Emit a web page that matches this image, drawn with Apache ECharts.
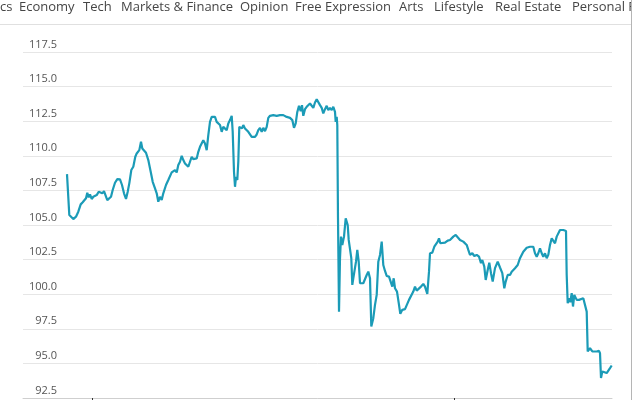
<!DOCTYPE html>
<html>
<head>
<meta charset="utf-8">
<script src="https://cdn.jsdelivr.net/npm/echarts@6/dist/echarts.min.js"></script>
<style>
html,body{margin:0;padding:0;background:#fff;}
#chart{width:632px;height:400px;}
</style>
</head>
<body>
<div id="chart"></div>
<script>
// Navigation items visible at the top of the page
const navItems = ["cs", "Economy", "Tech", "Markets & Finance", "Opinion", "Free Expression", "Arts", "Lifestyle", "Real Estate", "Personal F"];
const navX = [0, 19, 83, 121, 240, 295, 399, 434, 495, 572];

// Y axis ticks
const yTicks = [92.5, 95.0, 97.5, 100.0, 102.5, 105.0, 107.5, 110.0, 112.5, 115.0, 117.5];

// X-axis tick positions (days since start) – year boundaries
const xTickDays = [25, 387];

// Series: day offset and value
const days = [0,2.3,4,6.3,9,11.3,13.7,15.7,17.7,19,20.3,21.7,23,24.7,26.3,28,29.7,31.7,33.7,35.3,37,38.7,40.3,42.3,44,45.7,48,50.3,53,55,57,59,60.7,62.3,64.3,66.3,68.3,69.7,71,72.3,74,75.3,77,79,81.3,83.7,85.7,88,89.7,91.3,93,94.7,96.3,99,101.3,103,104.7,106.3,108,109.7,111.3,113,114.7,116.3,118,119.7,121.3,123,124.7,126.3,128,129.7,131.3,133,134.7,136.3,138,139.7,141.3,143,144.7,146.3,148,149.7,151.3,153,154.7,156.3,158,159.7,161.3,163,164.7,165.7,167,168,169,170.3,171.3,172.3,173.7,175,176.3,178,179.7,181.3,183,184.7,186.3,188,189.7,191.3,193,194.7,196.3,198,199.7,201.3,203,206.3,209.7,213,216.3,219.7,223,225.3,227,228.7,230.3,232,233.7,235,236.3,238,239.7,241.3,243,244.7,246.3,248,249.7,251.3,253,254.7,256.3,258,259.7,261.3,263,264.7,266.3,268,268.7,269.7,270.3,271,272,273,274,275.3,277,278.7,279.7,280.7,281.7,283,284.3,285.3,286.3,287.7,289,290.3,291.7,293,294.7,296.3,298,299.7,301.3,303,304.3,306.3,308,309.7,311.3,313,314.7,316.3,318,319.7,322,324,325.3,326.7,328,330,332,333.3,335.3,338,340,342,344,346.3,348,349.7,351.3,354,356.3,358,360.3,362,363,365.3,367.3,368.7,370.7,372,373.3,375.3,378,380.7,383,386.3,388.7,390.7,393,394.7,396.3,398,399.7,401.3,403,405.3,407.3,409.7,412,414,415.3,417.3,418.7,420.7,422.3,424,425.7,428,430.7,433,435.3,437.3,438.7,440.7,443,444.7,446.3,448,450.7,453,454.7,456.3,458,459.7,461.3,463,464.7,466.3,468,469.7,471.3,473,474.7,476.3,478,479.7,481.3,483,484.7,486.3,488,489.7,491.3,493,494.7,496.3,498,499,499.7,500.7,502,503.3,504.7,506,507.3,509.7,512,514,516.3,518,519.7,520.7,523,525.3,527.3,529.7,532,533,534,535.3,537.3,539.7,541.3,543,544.7];
const values = [108.68,105.72,105.60,105.43,105.60,105.96,106.49,106.64,106.68,106.93,107.33,107.00,107.21,106.88,107.04,106.97,107.16,107.40,107.36,107.29,107.45,107.33,106.80,106.80,107.04,107.53,108.05,108.32,108.30,107.89,107.29,106.88,107.40,108.01,108.97,109.21,109.93,110.17,110.05,110.41,111.01,110.53,110.41,110.22,109.69,108.85,108.12,107.65,107.29,106.68,107.04,106.80,107.29,107.89,108.25,108.37,108.80,108.66,108.97,108.80,109.33,109.57,110.00,109.69,109.45,109.33,109.21,109.57,109.93,109.76,109.86,109.81,110.29,110.65,110.53,111.13,110.89,110.41,111.49,112.45,112.81,112.94,112.81,112.45,112.58,112.22,111.73,112.09,111.98,111.85,112.34,112.58,112.89,111.73,108.85,107.76,108.48,108.25,109.57,112.09,112.22,111.98,112.22,111.98,112.09,111.73,111.85,111.37,111.49,111.37,111.54,111.85,112.02,111.73,112.02,111.78,112.09,112.74,112.89,112.94,112.89,112.94,112.94,112.81,112.74,112.58,112.02,112.34,113.17,113.61,113.23,113.66,112.89,113.37,113.54,113.42,113.78,113.90,113.46,113.85,114.09,114.02,113.66,113.46,113.06,113.37,113.61,113.30,113.46,113.30,113.54,113.17,112.45,112.81,112.22,105.48,98.74,102.60,104.16,103.56,104.16,105.48,105.60,105.00,103.92,103.80,102.60,100.67,101.15,101.15,102.35,103.20,102.35,100.79,100.67,100.79,100.67,101.39,101.63,101.15,97.66,98.27,99.23,99.95,102.35,102.84,103.80,102.11,101.68,101.32,101.27,101.39,100.55,101.15,100.43,100.19,99.23,98.58,98.87,98.92,99.06,99.59,99.71,100.19,100.55,100.26,100.19,100.55,100.74,100.55,100.02,101.63,102.96,103.00,103.43,103.56,103.80,104.04,103.68,103.80,103.72,103.87,103.92,104.16,104.28,104.11,103.92,104.04,103.80,103.92,103.56,103.20,102.84,102.96,102.76,102.84,102.71,102.24,102.47,101.99,101.03,101.75,102.28,101.52,100.91,101.88,102.35,101.93,101.52,100.43,100.91,101.39,101.39,101.63,101.75,101.88,102.11,102.60,102.71,103.07,103.03,103.36,103.48,103.43,103.56,103.43,102.96,102.71,102.96,103.32,102.96,102.71,102.96,102.60,102.84,103.56,104.04,104.08,103.68,104.16,104.28,104.64,104.71,104.64,104.57,104.57,101.39,99.35,99.71,99.42,100.07,99.11,99.95,99.59,99.59,99.47,99.71,99.71,98.74,95.86,96.10,95.86,95.98,95.86,95.91,95.74,93.94,94.42,94.47,94.30,94.42,94.66,94.85];

const seriesData = days.map((d, i) => [d, values[i]]);

const chart = echarts.init(document.getElementById('chart'), null, {renderer: 'canvas'});

const graphics = navItems.map((t, i) => ({
  type: 'text',
  left: navX[i],
  top: 1,
  silent: true,
  style: {
    text: t,
    fill: '#454545',
    font: '13px "Open Sans", sans-serif'
  }
}));
graphics.push({
  type: 'line', silent: true,
  shape: {x1: 0, y1: 24.5, x2: 632, y2: 24.5},
  style: {stroke: '#e0e0e0', lineWidth: 1}
});
graphics.push({
  type: 'line', silent: true,
  shape: {x1: 631.5, y1: 0, x2: 631.5, y2: 400},
  style: {stroke: '#b5b5b5', lineWidth: 1}
});

chart.setOption({
  animation: false,
  backgroundColor: '#ffffff',
  grid: {left: 23, right: 20, top: 52, bottom: 2, containLabel: false},
  xAxis: {
    type: 'value',
    min: -44,
    max: 545,
    splitLine: {show: false},
    axisLine: {show: true, lineStyle: {color: '#cfcfcf', width: 1}},
    axisTick: {show: true, customValues: xTickDays, length: 6, lineStyle: {color: '#333'}},
    axisLabel: {show: false}
  },
  yAxis: {
    type: 'value',
    min: yTicks[0],
    max: yTicks[yTicks.length - 1],
    interval: 2.5,
    axisLine: {show: false},
    axisTick: {show: false},
    splitLine: {show: true, lineStyle: {color: '#e6e6e6', width: 1}},
    axisLabel: {
      inside: true,
      align: 'right',
      verticalAlign: 'bottom',
      margin: 34,
      padding: [0, 0, 2, 0],
      color: '#555',
      fontSize: 11,
      fontFamily: '"Open Sans", sans-serif',
      formatter: v => v.toFixed(1)
    }
  },
  series: [{
    type: 'line',
    data: seriesData,
    showSymbol: false,
    symbol: 'none',
    lineStyle: {color: '#1b9bb7', width: 2.2},
    itemStyle: {color: '#1b9bb7'}
  }],
  graphic: graphics
});
</script>
</body>
</html>
